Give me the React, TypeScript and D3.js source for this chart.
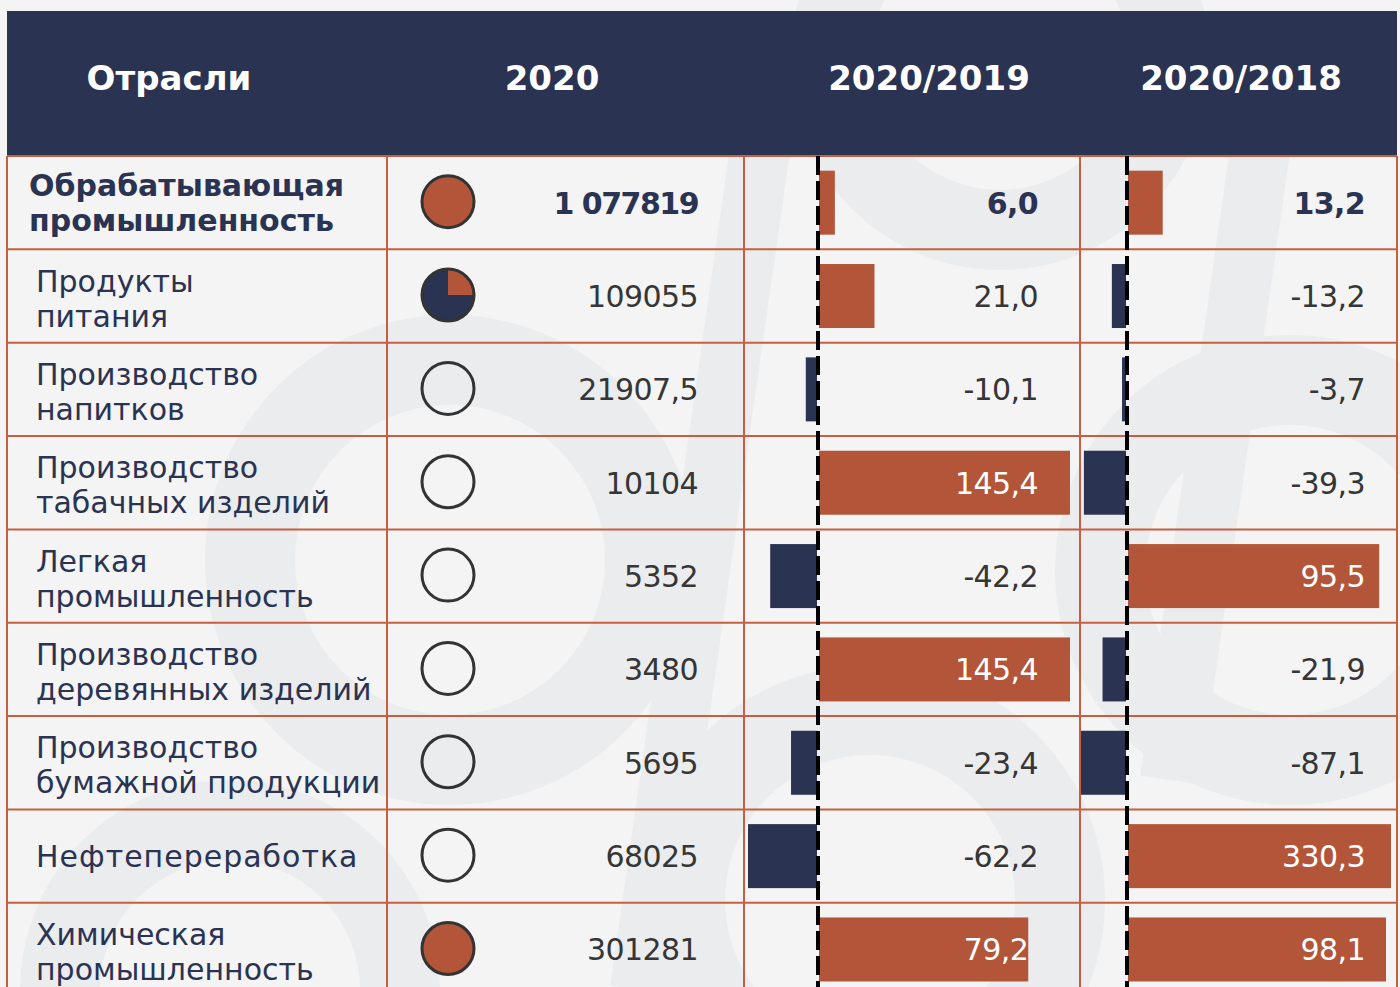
import React, { useEffect } from "react";
import * as d3 from "d3";

// ---------- DATA ----------
const headers = ["Отрасли", "2020", "2020/2019", "2020/2018"];

const categories: string[][] = [
  ["Обрабатывающая", "промышленность"],
  ["Продукты", "питания"],
  ["Производство", "напитков"],
  ["Производство", "табачных изделий"],
  ["Легкая", "промышленность"],
  ["Производство", "деревянных изделий"],
  ["Производство", "бумажной продукции"],
  ["Нефтепереработка"],
  ["Химическая", "промышленность"],
];

const values2020 = ["1 077819", "109055", "21907,5", "10104", "5352", "3480", "5695", "68025", "301281"];

// share of the circle glyph filled (orange)
const glyphShare = [1, 0.25, 0, 0, 0, 0, 0, 0, 1];

const change2019 = [6.0, 21.0, -10.1, 145.4, -42.2, 145.4, -23.4, -62.2, 79.2];
const change2018 = [13.2, -13.2, -3.7, -39.3, 95.5, -21.9, -87.1, 330.3, 98.1];

// ---------- STYLE ----------
const W = 1400;
const H = 987;
const NAVY = "#2b3352";
const ORANGE = "#b35538";
const GRID = "#c4603f";
const BG = "#f4f4f4";
const WM = "#ebecee";
const TEXT = "#363636";
const FONT = "'DejaVu Sans', sans-serif";

const left = 7;
const right = 1397;
const headTop = 11;
const headBottom = 156;
const rowH = 93.35;
const colX = [7, 387, 744, 1080, 1397];

const fmt = (v: number) => d3.format(".1f")(v).replace(".", ",").replace("−", "-");

export default function App() {
  useEffect(() => {
    document.body.style.margin = "0";
  }, []);

  const rows = d3.range(categories.length);
  const y = d3
    .scaleBand<number>()
    .domain(rows)
    .range([headBottom, headBottom + rowH * rows.length])
    .padding(0);
  const barH = 64;

  const zero2019 = 818;
  const zero2018 = 1127;
  const x2019 = d3.scaleLinear().domain([-62.2, 0, 95]).range([zero2019 - 69, zero2019, zero2019 + 251]).clamp(true);
  const x2018 = d3.scaleLinear().domain([-42, 0, 100]).range([zero2018 - 45, zero2018, zero2018 + 263]).clamp(true);

  const arc = d3.arc<any>().innerRadius(0).outerRadius(26);

  const cols = [
    { data: change2019, x: x2019, zero: zero2019, textRight: 1038 },
    { data: change2018, x: x2018, zero: zero2018, textRight: 1365 },
  ];

  const headerCenters = [169, 552, 929, 1241];

  return (
    <svg width={W} height={H} style={{ position: "absolute", left: 0, top: 0, display: "block" }}>
      <rect x={0} y={0} width={W} height={H} fill={BG} />
      {/* watermark */}
      <g fill="none" stroke={WM}>
        <circle cx={450} cy={560} r={200} strokeWidth={90} />
        <circle cx={1000} cy={60} r={170} strokeWidth={80} />
        <circle cx={1290} cy={570} r={190} strokeWidth={90} />
        <circle cx={230} cy={990} r={170} strokeWidth={80} />
        <circle cx={870} cy={900} r={190} strokeWidth={90} />
        <line x1={640} y1={990} x2={760} y2={150} strokeWidth={60} />
        <line x1={1170} y1={780} x2={1260} y2={150} strokeWidth={60} />
      </g>

      {/* header */}
      <rect x={left} y={headTop} width={right - left} height={headBottom - headTop} fill={NAVY} />
      {headers.map((h, i) => (
        <text
          key={h}
          x={headerCenters[i]}
          y={90}
          textAnchor="middle"
          fill="#ffffff"
          fontFamily={FONT}
          fontWeight={700}
          fontSize={34}
        >
          {h}
        </text>
      ))}

      {/* bars */}
      {cols.map((c, ci) =>
        c.data.map((v, i) => {
          const x0 = Math.min(c.x(0), c.x(v));
          const w = Math.abs(c.x(v) - c.x(0));
          const yc = (y(i) as number) + rowH / 2;
          return (
            <rect
              key={`b${ci}-${i}`}
              x={v >= 0 ? x0 + 1 : x0 - 1}
              y={yc - barH / 2}
              width={w}
              height={barH}
              fill={v >= 0 ? ORANGE : NAVY}
            />
          );
        })
      )}

      {/* grid */}
      <g stroke={GRID} strokeWidth={2}>
        {d3.range(categories.length + 1).map((i) => (
          <line key={`h${i}`} x1={left} x2={right} y1={headBottom + i * rowH} y2={headBottom + i * rowH} />
        ))}
        {colX.map((x, i) => (
          <line key={`v${i}`} x1={x} x2={x} y1={headBottom} y2={H} />
        ))}
      </g>

      {/* zero lines */}
      {cols.map((c, ci) => (
        <line
          key={`z${ci}`}
          x1={c.zero}
          x2={c.zero}
          y1={headBottom}
          y2={H}
          stroke="#000"
          strokeWidth={4}
          strokeDasharray="19 6"
        />
      ))}

      {/* category labels */}
      {categories.map((lines, i) => {
        const yc = (y(i) as number) + rowH / 2;
        const bold = i === 0;
        const n = lines.length;
        return (
          <text
            key={`c${i}`}
            fill={NAVY}
            fontFamily={FONT}
            fontSize={30}
            fontWeight={bold ? 700 : 400}
            letterSpacing={n === 1 ? 1 : 0}
          >
            {lines.map((l, j) => (
              <tspan key={j} x={bold ? 29 : 36} y={yc + 11 + (j - (n - 1) / 2) * 35 + (bold || n === 1 ? 0 : 2)}>
                {l}
              </tspan>
            ))}
          </text>
        );
      })}

      {/* glyphs */}
      {glyphShare.map((s, i) => {
        const yc = (y(i) as number) + rowH / 2 - 1;
        const a = 2 * Math.PI * s;
        return (
          <g key={`g${i}`} transform={`translate(448,${yc})`}>
            {s > 0 && s < 1 && (
              <path d={arc({ startAngle: a, endAngle: 2 * Math.PI }) as string} fill={NAVY} />
            )}
            {s > 0 && <path d={arc({ startAngle: 0, endAngle: a }) as string} fill={ORANGE} />}
            <circle r={26} fill="none" stroke="#333333" strokeWidth={3} />
          </g>
        );
      })}

      {/* 2020 values */}
      {values2020.map((v, i) => {
        const yc = (y(i) as number) + rowH / 2;
        const bold = i === 0;
        return (
          <text
            key={`v${i}`}
            x={698}
            y={yc + 11}
            textAnchor="end"
            fill={bold ? NAVY : TEXT}
            fontFamily={FONT}
            fontWeight={bold ? 700 : 400}
            fontSize={30}
            letterSpacing={bold ? -1.5 : -0.6}
          >
            {v}
          </text>
        );
      })}

      {/* change labels */}
      {cols.map((c, ci) =>
        c.data.map((v, i) => {
          const yc = (y(i) as number) + rowH / 2;
          const bold = i === 0;
          const barEnd = c.x(v) + 1;
          const inside = v > 0 && barEnd >= c.textRight - 12;
          const tx = inside ? Math.min(c.textRight, barEnd) : c.textRight;
          return (
            <text
              key={`t${ci}-${i}`}
              x={tx}
              y={yc + 11}
              textAnchor="end"
              fill={inside ? "#ffffff" : bold ? NAVY : TEXT}
              fontFamily={FONT}
              fontWeight={bold ? 700 : 400}
              fontSize={30}
              letterSpacing={-0.6}
            >
              {fmt(v)}
            </text>
          );
        })
      )}
    </svg>
  );
}
